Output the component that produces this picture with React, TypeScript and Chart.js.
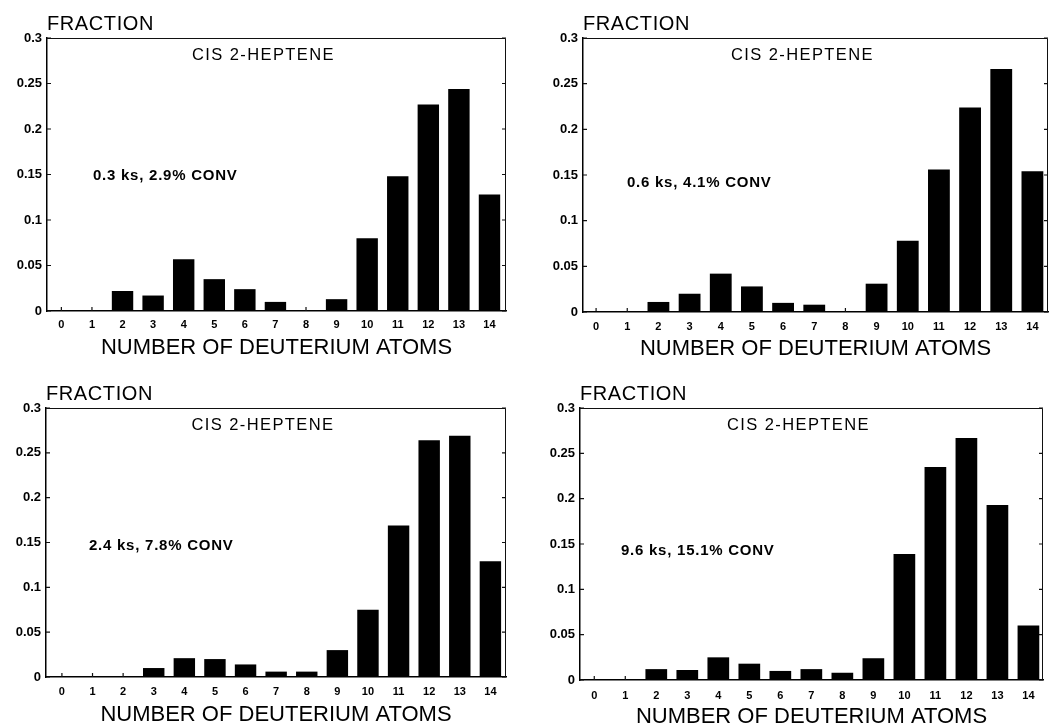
import { useEffect, useRef } from "react";
import { Chart, registerables } from "chart.js";

Chart.register(...registerables);

// Number of deuterium atoms per molecule (x categories)
const deuteriumAtoms = [0, 1, 2, 3, 4, 5, 6, 7, 8, 9, 10, 11, 12, 13, 14];

// Fraction of each isotopomer, one array per reaction time
const fraction03ks = [0, 0, 0.022, 0.017, 0.057, 0.035, 0.024, 0.01, 0, 0.013, 0.08, 0.148, 0.227, 0.244, 0.128];
const fraction06ks = [0.001, 0, 0.011, 0.02, 0.042, 0.028, 0.01, 0.008, 0, 0.031, 0.078, 0.156, 0.224, 0.266, 0.154];
const fraction24ks = [0, 0, 0, 0.01, 0.021, 0.02, 0.014, 0.006, 0.006, 0.03, 0.075, 0.169, 0.264, 0.269, 0.129];
const fraction96ks = [0, 0, 0.012, 0.011, 0.025, 0.018, 0.01, 0.012, 0.008, 0.024, 0.139, 0.235, 0.267, 0.193, 0.06];

const runLabels = ["0.3 ks, 2.9% CONV", "0.6 ks, 4.1% CONV", "2.4 ks, 7.8% CONV", "9.6 ks, 15.1% CONV"];
const compoundName = "CIS 2-HEPTENE";
const yAxisLabel = "FRACTION";
const xAxisLabel = "NUMBER OF DEUTERIUM ATOMS";
const yMax = 0.3;
const yStep = 0.05;

const seriesList = [fraction03ks, fraction06ks, fraction24ks, fraction96ks];

// Canvas placement and plot-area geometry of each panel (canvas-relative pixels)
const panelLayout = [
  { x: 0, y: 0, w: 525, h: 360, left: 47, top: 38, right: 506, bottom: 311, xMin: -0.47, xMax: 14.54, xTickPad: 7, titlePad: 3.7, noteDx: 46, noteDy: 137 },
  { x: 525, y: 0, w: 525, h: 360, left: 58, top: 38, right: 523, bottom: 312, xMin: -0.42, xMax: 14.5, xTickPad: 8.5, titlePad: 2.2, noteDx: 44, noteDy: 144 },
  { x: 0, y: 360, w: 525, h: 367, left: 46, top: 48, right: 506, bottom: 317, xMin: -0.52, xMax: 14.51, xTickPad: 8, titlePad: 3.2, noteDx: 43, noteDy: 137 },
  { x: 525, y: 360, w: 525, h: 367, left: 55, top: 48, right: 518, bottom: 320, xMin: -0.46, xMax: 14.47, xTickPad: 9.5, titlePad: 1.5, noteDx: 41, noteDy: 142 },
];

const FAMILY = '"Liberation Sans", Arial, Helvetica, sans-serif';

type Layout = (typeof panelLayout)[number];

function makeDecorPlugin(layout: Layout, note: string) {
  return {
    id: "panelDecor",
    beforeDatasetsDraw(chart: any) {
      const { ctx, chartArea: a, scales } = chart;
      const xs = scales.x;
      const ys = scales.y;
      ctx.save();
      ctx.strokeStyle = "#111";
      // top and right edges of the frame
      ctx.lineWidth = 1;
      ctx.beginPath();
      ctx.moveTo(a.left, a.top + 0.5);
      ctx.lineTo(a.right - 0.5, a.top + 0.5);
      ctx.lineTo(a.right - 0.5, a.bottom);
      ctx.stroke();
      // inward tick marks
      ctx.lineWidth = 1.2;
      ctx.beginPath();
      ys.ticks.forEach((t: any) => {
        const py = ys.getPixelForValue(t.value);
        ctx.moveTo(a.left, py);
        ctx.lineTo(a.left + 4, py);
        ctx.moveTo(a.right, py);
        ctx.lineTo(a.right - 4, py);
      });
      xs.ticks.forEach((t: any) => {
        const px = xs.getPixelForValue(t.value);
        ctx.moveTo(px, a.bottom);
        ctx.lineTo(px, a.bottom - 4);
      });
      ctx.stroke();
      ctx.restore();
    },
    afterDraw(chart: any) {
      const { ctx, chartArea: a } = chart;
      ctx.save();
      ctx.fillStyle = "#000";
      ctx.textBaseline = "alphabetic";

      // axis quantity above the y axis
      ctx.font = `20px ${FAMILY}`;
      (ctx as any).letterSpacing = "0.6px";
      ctx.textAlign = "left";
      ctx.fillText(yAxisLabel, a.left, a.top - 8.5);

      // compound heading
      ctx.font = `16.5px ${FAMILY}`;
      (ctx as any).letterSpacing = "1.4px";
      ctx.textAlign = "center";
      ctx.fillText(compoundName, (a.left + a.right) / 2 - 13, a.top + 21.5);

      // reaction time / conversion note
      ctx.font = `bold 15px ${FAMILY}`;
      (ctx as any).letterSpacing = "0.75px";
      ctx.textAlign = "left";
      ctx.fillText(note, a.left + layout.noteDx, a.top + layout.noteDy + 5.3);

      (ctx as any).letterSpacing = "0px";
      ctx.restore();
    },
  };
}

function Panel({ index }: { index: number }) {
  const ref = useRef<HTMLCanvasElement | null>(null);
  const layout = panelLayout[index];

  useEffect(() => {
    if (!ref.current) return;
    const values = seriesList[index];
    const chart = new Chart(ref.current, {
      type: "bar",
      data: {
        datasets: [
          {
            data: deuteriumAtoms.map((n, i) => ({ x: n, y: values[i] })),
            backgroundColor: "#000",
            borderWidth: 0,
            barPercentage: 0.7,
            categoryPercentage: 1,
          },
        ],
      },
      options: {
        animation: false,
        responsive: false,
        maintainAspectRatio: false,
        devicePixelRatio: 1,
        layout: {
          padding: { left: 0, top: layout.top, right: layout.w - layout.right, bottom: 0 },
        },
        plugins: {
          legend: { display: false },
          tooltip: { enabled: false },
        },
        scales: {
          x: {
            type: "linear",
            min: layout.xMin,
            max: layout.xMax,
            offset: false,
            grid: { display: false, drawTicks: false, offset: false },
            border: { display: true, color: "#000", width: 1.5 },
            afterBuildTicks: (s: any) => {
              s.ticks = deuteriumAtoms.map((v) => ({ value: v }));
            },
            afterFit: (s: any) => {
              s.height = layout.h - layout.bottom;
            },
            ticks: {
              autoSkip: false,
              maxRotation: 0,
              minRotation: 0,
              padding: layout.xTickPad,
              color: "#000",
              font: { family: FAMILY, size: 11, weight: "bold" },
              callback: (v: any) => String(v),
            },
            title: {
              display: true,
              text: xAxisLabel,
              color: "#000",
              font: { family: FAMILY, size: 22, lineHeight: 0.8 },
              padding: { top: 0, bottom: layout.titlePad },
            },
          },
          y: {
            min: 0,
            max: yMax,
            grid: { display: false, drawTicks: false },
            border: { display: true, color: "#000", width: 1.5 },
            afterFit: (s: any) => {
              s.width = layout.left;
            },
            ticks: {
              stepSize: yStep,
              padding: 5,
              color: "#000",
              font: { family: FAMILY, size: 13, weight: "bold" },
              callback: (v: any) => (Number(v) === 0 ? "0" : String(Number(Number(v).toFixed(2)))),
            },
          },
        },
      } as any,
      plugins: [makeDecorPlugin(layout, runLabels[index])],
    });
    return () => chart.destroy();
  }, [index]);

  return (
    <canvas
      ref={ref}
      width={layout.w}
      height={layout.h}
      style={{ position: "absolute", left: layout.x, top: layout.y, width: layout.w, height: layout.h }}
    />
  );
}

export default function App() {
  return (
    <div style={{ position: "absolute", left: 0, top: 0, width: 1050, height: 727, background: "#fff", overflow: "hidden" }}>
      {panelLayout.map((_, i) => (
        <Panel key={i} index={i} />
      ))}
    </div>
  );
}
